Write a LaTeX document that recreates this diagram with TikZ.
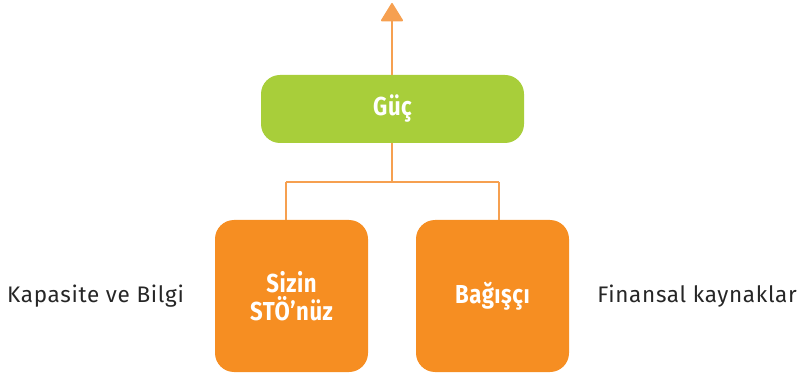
\documentclass[tikz,border=0pt]{standalone}
\usepackage{fontspec}
\setmainfont{Fira Sans}[LetterSpace=3]
\newfontfamily\boxfont[FakeStretch=0.85,LetterSpace=2]{Fira Sans Bold}
\usetikzlibrary{arrows.meta}
\definecolor{leaf}{HTML}{A8CE3A}
\definecolor{tang}{HTML}{F68E22}
\definecolor{wire}{HTML}{F6A050}
\begin{document}
\begin{tikzpicture}[x=1pt,y=1pt,
  box/.style={rounded corners=19pt,inner sep=0pt,align=center,
    text=white,font=\boxfont\fontsize{26}{28.5}\selectfont},
  link/.style={draw=wire,line width=1.6pt},
  side/.style={font=\fontsize{22.5}{25}\selectfont,text=black!85,inner sep=0pt}]
\useasboundingbox (0,0) rectangle (799,372);
% top box and arrow
\node[box,fill=leaf,minimum width=263pt,minimum height=68pt] (g) at (392.5,263) {Güç};
\coordinate (top) at (392,369);
\draw[link,-{Triangle[round,width=23pt,length=19pt]}] (g.north -| top) -- (top);
% lower boxes
\node[box,fill=tang,minimum width=153pt,minimum height=152pt] (l) at (291.5,76) {Sizin\\STÖ’nüz};
\node[box,fill=tang,minimum width=153pt,minimum height=152pt] (r) at (492.5,76) {Bağışçı};
% branching connector
\coordinate (j) at (392,190);
\coordinate (jl) at (286,190);
\coordinate (jr) at (499,190);
\draw[link] (g.south -| j) -- (j);
\draw[link] (jl) -- (jr);
\draw[link] (jl) -- (l.north -| jl);
\draw[link] (jr) -- (r.north -| jr);
% side labels
\node[side,anchor=west] (kb) at (7,76) {Kapasite ve Bilgi};
\node[side,anchor=east] (fk) at (797,76) {Finansal kaynaklar};
\end{tikzpicture}
\end{document}
